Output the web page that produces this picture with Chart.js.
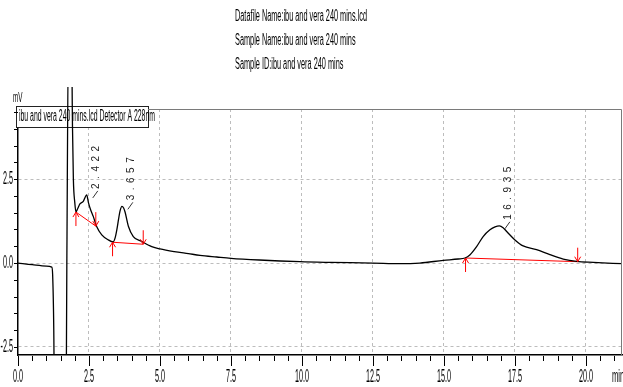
<!DOCTYPE html>
<html>
<head>
<meta charset="utf-8">
<script src="https://cdn.jsdelivr.net/npm/chart.js@4.4.1/dist/chart.umd.min.js"></script>
<style>
    body { margin: 0; background: #fff; }
    canvas { display: block; }
</style>
</head>
<body>
<canvas id="chartCromatograma" width="623" height="387"></canvas>
<script>
// Signal trace (min, mV)
const tiempos = [0, 0.5, 1.0, 1.19, 1.22, 1.26, 1.30, 1.68, 1.72, 1.78, 1.88, 1.92, 1.95, 2.00, 2.04, 2.10, 2.18, 2.30, 2.42, 2.48, 2.56, 2.65, 2.77, 2.95, 3.18, 3.35, 3.42, 3.48, 3.54, 3.59, 3.66, 3.72, 3.77, 3.89, 4.06, 4.36, 4.71, 5.0, 5.5, 6.0, 6.41, 7.0, 7.5, 8.5, 9.93, 11.0, 12.5, 13.45, 14.15, 14.98, 15.5, 15.74, 15.92, 16.15, 16.38, 16.62, 16.8, 16.95, 17.1, 17.21, 17.5, 17.79, 18.26, 18.73, 19.20, 19.67, 20.26, 21.28];
const senal = [0.00, -0.05, -0.09, -0.12, -0.35, -2.0, -6, -6, 0, 7, 7, 4.0, 2.5, 1.8, 1.52, 1.62, 1.76, 1.84, 2.03, 1.80, 1.58, 1.39, 1.09, 0.84, 0.69, 0.63, 0.75, 0.99, 1.30, 1.54, 1.69, 1.64, 1.52, 1.09, 0.79, 0.64, 0.49, 0.42, 0.34, 0.28, 0.23, 0.18, 0.14, 0.09, 0.04, 0.02, 0.00, -0.02, 0.00, 0.08, 0.12, 0.15, 0.25, 0.49, 0.79, 0.99, 1.08, 1.11, 1.04, 0.94, 0.69, 0.51, 0.40, 0.25, 0.12, 0.05, 0.02, -0.02];

// Integrated peaks
const picosTiempo = [2.422, 3.657, 16.935];
const picosAltura = [2.03, 1.69, 1.11];
const baseInicioT = [2.04, 3.33, 15.76];
const baseInicioV = [1.52, 0.62, 0.15];
const baseFinT = [2.74, 4.41, 19.71];
const baseFinV = [1.10, 0.56, 0.04];

// Axis ticks
const xTicks = [0, 2.5, 5, 7.5, 10, 12.5, 15, 17.5, 20];
const xTickLabels = ['0.0', '2.5', '5.0', '7.5', '10.0', '12.5', '15.0', '17.5', '20.0'];
const yTicks = [-2.5, 0, 2.5];
const yTickLabels = ['-2.5', '0.0', '2.5'];

const titulo = [
    'Datafile Name:ibu and vera 240 mins.lcd',
    'Sample Name:ibu and vera 240 mins',
    'Sample ID:ibu and vera 240 mins'
];
const leyenda = 'ibu and vera 240 mins.lcd Detector A 228nm';

const FUENTE = '"Liberation Sans", Arial, sans-serif';

const textoAngosto = (ctx, texto, x, y, size, sx, align) => {
    ctx.save();
    ctx.font = `${size}px ${FUENTE}`;
    ctx.textBaseline = 'middle';
    ctx.textAlign = align;
    ctx.translate(x, y);
    ctx.scale(sx, 1);
    ctx.fillText(texto, 0, 0);
    ctx.restore();
};

const flecha = (ctx, x, y, arriba) => {
    // arrow tip sits on the baseline end point
    const dir = arriba ? 1 : -1;
    ctx.beginPath();
    ctx.moveTo(x, y);
    ctx.lineTo(x, y + dir * 14);
    ctx.moveTo(x - 3, y + dir * 5);
    ctx.lineTo(x, y);
    ctx.lineTo(x + 3, y + dir * 5);
    ctx.stroke();
};

const decoracion = {
    id: 'decoracion',
    beforeDatasetsDraw(chart) {
        const ctx = chart.ctx;
        // legend box over the plot
        ctx.save();
        ctx.fillStyle = '#fff';
        ctx.fillRect(16, 106, 132, 21);
        ctx.strokeStyle = '#222';
        ctx.lineWidth = 1;
        ctx.strokeRect(16.5, 106.5, 132, 21);
        ctx.fillStyle = '#000';
        ctx.font = `16px ${FUENTE}`;
        const sx = 136 / ctx.measureText(leyenda).width;
        textoAngosto(ctx, leyenda, 19, 117, 16, sx, 'left');
        ctx.restore();
    },
    afterDraw(chart) {
        const ctx = chart.ctx;
        const { left, right, top, bottom } = chart.chartArea;
        const xs = chart.scales.x;
        const ys = chart.scales.y;

        ctx.save();
        // gray frame top and right
        ctx.strokeStyle = '#7a7a7a';
        ctx.lineWidth = 1;
        ctx.beginPath();
        ctx.moveTo(148, top + 0.5);
        ctx.lineTo(right - 0.5, top + 0.5);
        ctx.lineTo(right - 0.5, bottom);
        ctx.stroke();

        // tick marks
        ctx.strokeStyle = '#000';
        ctx.beginPath();
        for (let v = 0; v <= 21; v += 0.5) {
            const px = Math.round(xs.getPixelForValue(v)) + 0.5;
            const largo = (v % 2.5 === 0) ? 10 : 5;
            ctx.moveTo(px, bottom + 1);
            ctx.lineTo(px, bottom + 1 + largo);
        }
        for (let v = -2.5; v <= 4.5; v += 0.5) {
            const py = Math.round(ys.getPixelForValue(v)) + 0.5;
            ctx.moveTo(left - 4, py);
            ctx.lineTo(left, py);
        }
        ctx.stroke();

        // tick labels
        ctx.fillStyle = '#000';
        xTicks.forEach((v, i) => {
            textoAngosto(ctx, xTickLabels[i], xs.getPixelForValue(v), 377, 18, 0.4, 'center');
        });
        yTicks.forEach((v, i) => {
            textoAngosto(ctx, yTickLabels[i], 13, ys.getPixelForValue(v), 18, 0.4, 'right');
        });
        textoAngosto(ctx, 'mV', 13, 98, 15, 0.42, 'left');
        textoAngosto(ctx, 'min', 612, 377, 18, 0.42, 'left');

        // header lines
        ctx.font = `16px ${FUENTE}`;
        const sxT = 132 / ctx.measureText(titulo[0]).width;
        titulo.forEach((linea, i) => {
            textoAngosto(ctx, linea, 235, 17 + i * 24, 16, sxT, 'left');
        });

        // baseline markers
        ctx.strokeStyle = '#ff0000';
        ctx.lineWidth = 1;
        baseInicioT.forEach((t, i) => {
            flecha(ctx, xs.getPixelForValue(t), ys.getPixelForValue(baseInicioV[i]), true);
            flecha(ctx, xs.getPixelForValue(baseFinT[i]), ys.getPixelForValue(baseFinV[i]), false);
        });

        // retention time labels, rotated
        ctx.fillStyle = '#222';
        ctx.strokeStyle = '#333';
        picosTiempo.forEach((t, i) => {
            const px = xs.getPixelForValue(t) + 9;
            const py = ys.getPixelForValue(picosAltura[i]);
            ctx.beginPath();
            ctx.moveTo(px - 3, py + 3);
            ctx.lineTo(px + 2, py - 4);
            ctx.stroke();
            ctx.save();
            ctx.translate(px + 3, py - 6);
            ctx.rotate(-Math.PI / 2);
            ctx.font = `10px ${FUENTE}`;
            ctx.letterSpacing = '4.5px';
            ctx.textAlign = 'left';
            ctx.textBaseline = 'alphabetic';
            ctx.fillText(t.toFixed(3), 0, 0);
            ctx.restore();
        });
        ctx.restore();
    }
};

const lineasBase = baseInicioT.map((t, i) => ({
    data: [{ x: t, y: baseInicioV[i] }, { x: baseFinT[i], y: baseFinV[i] }],
    borderColor: '#ff0000',
    borderWidth: 1,
    pointRadius: 0
}));

const canvas = document.getElementById('chartCromatograma');
const context = canvas.getContext('2d');

const chartCromatograma = new Chart(context, {
    type: 'line',
    data: {
        datasets: [
            {
                label: 'Detector A 228nm',
                data: tiempos.map((t, i) => ({ x: t, y: senal[i] })),
                borderColor: '#000',
                borderWidth: 1.3,
                pointRadius: 0,
                cubicInterpolationMode: 'monotone',
                clip: { left: 0, top: 22, right: 0, bottom: 0 }
            },
            ...lineasBase
        ]
    },
    options: {
        responsive: false,
        animation: false,
        layout: {
            padding: { top: 109, right: 1, left: 0, bottom: 0 }
        },
        plugins: {
            legend: { display: false },
            tooltip: { enabled: false }
        },
        scales: {
            x: {
                type: 'linear',
                min: 0,
                max: 21.27,
                afterFit: (scale) => { scale.height = 32; },
                afterBuildTicks: (axis) => { axis.ticks = xTicks.filter(v => v > 0).map(v => ({ value: v })); },
                ticks: { display: false },
                grid: { color: '#bdbdbd', lineWidth: 1, drawTicks: false },
                border: { color: '#000', width: 1.5, dash: [3, 3] }
            },
            y: {
                type: 'linear',
                min: -2.74,
                max: 4.59,
                afterFit: (scale) => { scale.width = 18; },
                afterBuildTicks: (axis) => { axis.ticks = yTicks.map(v => ({ value: v })); },
                ticks: { display: false },
                grid: { color: '#bdbdbd', lineWidth: 1, drawTicks: false },
                border: { color: '#000', width: 1.5, dash: [3, 3] }
            }
        }
    },
    plugins: [decoracion]
});
</script>
</body>
</html>
